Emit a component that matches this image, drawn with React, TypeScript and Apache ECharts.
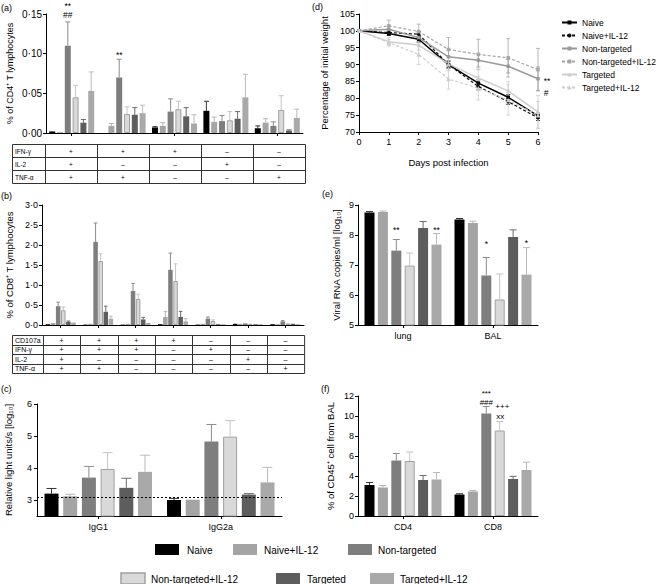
import React, { useEffect, useRef } from 'react';
import * as echarts from 'echarts';

const FONT = '"Liberation Sans", Arial, Helvetica, sans-serif';

const GROUPS = ['Naive', 'Naive+IL-12', 'Non-targeted', 'Non-targeted+IL-12', 'Targeted', 'Targeted+IL-12'];
const BAR_COLORS = ['#000000', '#a4a4a4', '#7e7e7e', '#d9d9d9', '#5d5d5d', '#a9a9a9'];
const ERR_COLORS = ['#333333', '#b4b4b4', '#8c8c8c', '#c4c4c4', '#6c6c6c', '#bababa'];
const NT_IL12_BORDER = '#a0a0a0';

// ---------- (a) CD4+ cytokine profiles ----------
const A_CATS = ['IFN+IL2+TNF+', 'IFN+TNF+', 'IFN+', 'IL2+', 'TNF+'];
const A_VALUES = [
  [0.002, 0.0, 0.007, 0.028, 0.006],
  [0.001, 0.009, 0.009, 0.014, 0.013],
  [0.11, 0.07, 0.027, 0.015, 0.009],
  [0.045, 0.024, 0.03, 0.016, 0.029],
  [0.013, 0.023, 0.021, 0.018, 0.003],
  [0.053, 0.025, 0.012, 0.045, 0.019],
];
const A_ERR_TOP = [
  [0.002, 0.0, 0.008, 0.04, 0.009],
  [0.001, 0.012, 0.013, 0.02, 0.018],
  [0.14, 0.093, 0.043, 0.022, 0.014],
  [0.06, 0.033, 0.04, 0.027, 0.047],
  [0.017, 0.032, 0.032, 0.027, 0.004],
  [0.077, 0.035, 0.023, 0.074, 0.03],
];
const A_TABLE_LABELS = ['IFN-γ', 'IL-2', 'TNF-α'];
const A_TABLE = [
  ['+', '+', '+', '–', '–'],
  ['+', '–', '–', '+', '–'],
  ['+', '+', '–', '–', '+'],
];
const A_NOTES = [
  { s: 2, c: 0, t: '**', dx: 0, dy: -16, f: 8.5 },
  { s: 2, c: 0, t: '##', dx: 0, dy: -7, f: 8.5 },
  { s: 2, c: 1, t: '**', dx: 0, dy: -4, f: 8.5 },
];

// ---------- (b) CD8+ functional profiles ----------
const B_CATS = ['p1', 'p2', 'p3', 'p4', 'p5', 'p6', 'p7'];
const B_VALUES = [
  [0.02, 0.01, 0.01, 0.02, 0.01, 0.03, 0.02],
  [0.05, 0.03, 0.03, 0.2, 0.03, 0.03, 0.02],
  [0.47, 2.08, 0.85, 1.38, 0.16, 0.04, 0.09],
  [0.37, 1.6, 0.65, 1.1, 0.1, 0.03, 0.04],
  [0.08, 0.33, 0.14, 0.2, 0.02, 0.02, 0.03],
  [0.06, 0.16, 0.05, 0.09, 0.02, 0.02, 0.02],
];
const B_ERR_TOP = [
  [0.02, 0.01, 0.01, 0.02, 0.01, 0.03, 0.02],
  [0.05, 0.03, 0.03, 0.34, 0.03, 0.03, 0.02],
  [0.57, 2.55, 1.04, 1.8, 0.2, 0.04, 0.11],
  [0.45, 1.78, 0.77, 1.53, 0.13, 0.03, 0.04],
  [0.1, 0.47, 0.19, 0.34, 0.02, 0.02, 0.03],
  [0.06, 0.22, 0.05, 0.16, 0.02, 0.02, 0.02],
];
const B_TABLE_LABELS = ['CD107a', 'IFN-γ', 'IL-2', 'TNF-α'];
const B_TABLE = [
  ['+', '+', '+', '+', '–', '–', '–'],
  ['+', '+', '+', '–', '+', '–', '–'],
  ['+', '–', '–', '–', '–', '+', '–'],
  ['+', '+', '–', '–', '–', '–', '+'],
];

// ---------- (c) antibody ----------
const C_CATS = ['IgG1', 'IgG2a'];
const C_VALUES = [
  [3.2, 3.0],
  [3.12, 3.01],
  [3.7, 4.83],
  [3.97, 4.98],
  [3.38, 3.17],
  [3.88, 3.55],
];
const C_ERR_TOP = [
  [3.36, 3.05],
  [3.18, 3.01],
  [4.05, 5.36],
  [4.48, 5.48],
  [3.68, 3.2],
  [4.4, 4.02],
];
const C_TICKS = [3, 4, 5, 6];
const C_CUTOFF = 3.1;

// ---------- (d) weight ----------
const D_DAYS = [0, 1, 2, 3, 4, 5, 6];
const D_NAIVE = [100, 99.2, 97.5, 90, 84.5, 80.3, 74.8];
const D_NAIVE_IL12 = [100, 99.5, 99, 90, 83.5, 79, 74.2];
const D_NT = [100, 100.5, 98, 92.3, 91.3, 89.5, 85.8];
const D_NT_IL12 = [100, 101.5, 99.8, 94.5, 93, 92, 88.5];
const D_T = [100, 96.8, 95.8, 90.2, 86, 82.2, 76];
const D_T_IL12 = [100, 96.5, 93, 85.7, 83, 79.5, 75];
const D_NAIVE_ERR = [0, 0.5, 0.8, 1, 1, 0.8, 0.8];
const D_NAIVE_IL12_ERR = [0, 0.8, 0.8, 1, 1, 0.8, 0.8];
const D_NT_ERR = [0, 1, 1.5, 2, 2, 2, 3.5];
const D_NT_IL12_ERR = [0, 1.7, 2.2, 3.5, 4.5, 5.7, 6.3];
const D_T_ERR = [0, 1.2, 1.5, 2, 2.5, 2.7, 4.8];
const D_T_IL12_ERR = [0, 1, 3, 3, 3.5, 4.5, 4];

// ---------- (e) viral RNA ----------
const E_CATS = ['lung', 'BAL'];
const E_VALUES = [
  [8.75, 8.52],
  [8.77, 8.4],
  [7.48, 6.65],
  [6.98, 5.85],
  [8.23, 7.93],
  [7.68, 6.68],
];
const E_ERR_TOP = [
  [8.78, 8.55],
  [8.8, 8.46],
  [7.85, 7.25],
  [7.4, 6.7],
  [8.45, 8.17],
  [8.05, 7.58],
];
const E_NOTES = [
  { s: 2, c: 0, t: '**', dx: 0, dy: -10, f: 8.5 },
  { s: 5, c: 0, t: '**', dx: 0, dy: -4, f: 8.5 },
  { s: 2, c: 1, t: '*', dx: 0, dy: -14, f: 8.5 },
  { s: 5, c: 1, t: '*', dx: 0, dy: -5, f: 8.5 },
];

// ---------- (f) CD45+ cells ----------
const F_CATS = ['CD4', 'CD8'];
const F_VALUES = [
  [3.1, 2.15],
  [2.85, 2.45],
  [5.55, 10.25],
  [5.5, 8.55],
  [3.6, 3.7],
  [3.65, 4.6],
];
const F_ERR_TOP = [
  [3.35, 2.22],
  [3.05, 2.55],
  [6.25, 10.95],
  [6.4, 9.45],
  [4.05, 3.97],
  [4.35, 5.38],
];
const F_NOTES = [
  { s: 2, c: 1, t: '***', dx: 0, dy: -13, f: 8 },
  { s: 2, c: 1, t: '###', dx: 0, dy: -4, f: 8 },
  { s: 2, c: 1, t: '+++', dx: 16, dy: 0, f: 8 },
  { s: 2, c: 1, t: 'xx', dx: 14, dy: 9.5, f: 8 },
];

type Note = { s: number; c: number; t: string; dx: number; dy: number; f: number };

function textStyle(text: string, size: number, align = 'center', vAlign = 'middle', fill = '#000') {
  return {
    text,
    fontSize: size,
    fontFamily: FONT,
    fill,
    align,
    textAlign: align,
    verticalAlign: vAlign,
    textVerticalAlign: vAlign,
  };
}

function barSeries(idx: number, values: number[][], errs: number[][], bw: number, gap: number, cap: number, notes: Note[]) {
  const out: any[] = [];
  const n = values.length;
  const total = n * bw + (n - 1) * gap;
  values.forEach((vals, i) => {
    out.push({
      type: 'bar',
      name: GROUPS[i],
      xAxisIndex: idx,
      yAxisIndex: idx,
      data: vals,
      barWidth: bw,
      barGap: (gap / bw) * 100 + '%',
      clip: true,
      silent: true,
      itemStyle: {
        color: BAR_COLORS[i],
        borderColor: i === 3 ? NT_IL12_BORDER : BAR_COLORS[i],
        borderWidth: i === 3 ? 1 : 0,
      },
    });
  });
  values.forEach((vals, i) => {
    const off = -total / 2 + i * (bw + gap) + bw / 2;
    out.push({
      type: 'custom',
      xAxisIndex: idx,
      yAxisIndex: idx,
      silent: true,
      z: 5,
      data: vals.map((v, c) => [c, v, errs[i][c]]),
      renderItem: (params: any, api: any) => {
        const c = api.value(0);
        const v = api.value(1);
        const e = api.value(2);
        const base = api.coord([c, v]);
        const top = api.coord([c, e]);
        const x = base[0] + off;
        const children: any[] = [];
        if (e > v) {
          children.push({ type: 'line', shape: { x1: x, y1: base[1], x2: x, y2: top[1] }, style: { stroke: ERR_COLORS[i], lineWidth: 1 } });
          children.push({ type: 'line', shape: { x1: x - cap, y1: top[1], x2: x + cap, y2: top[1] }, style: { stroke: ERR_COLORS[i], lineWidth: 1 } });
        }
        notes
          .filter((nt) => nt.s === i && nt.c === c)
          .forEach((nt) => {
            children.push({ type: 'text', x: x + nt.dx, y: top[1] + nt.dy, style: textStyle(nt.t, nt.f) });
          });
        return { type: 'group', children };
      },
    });
  });
  return out;
}

function lineSeries(name: string, vals: number[], errs: number[], color: string, dashed: boolean, symbol: string, size: number, width: number) {
  return [
    {
      type: 'line',
      name,
      xAxisIndex: 3,
      yAxisIndex: 3,
      data: D_DAYS.map((d, i) => [d, vals[i]]),
      symbol,
      symbolSize: size,
      showSymbol: true,
      lineStyle: { color, width, type: dashed ? [3, 2] : 'solid' },
      itemStyle: { color },
      z: 4,
    },
    {
      type: 'custom',
      xAxisIndex: 3,
      yAxisIndex: 3,
      silent: true,
      z: 3,
      data: D_DAYS.map((d, i) => [d, vals[i] - errs[i], vals[i] + errs[i]]),
      renderItem: (params: any, api: any) => {
        const x = api.value(0);
        const lo = api.value(1);
        const hi = api.value(2);
        if (hi <= lo) return { type: 'group', children: [] };
        const p1 = api.coord([x, lo]);
        const p2 = api.coord([x, hi]);
        const st = { stroke: color, lineWidth: 1, opacity: 0.8 };
        return {
          type: 'group',
          children: [
            { type: 'line', shape: { x1: p1[0], y1: p1[1], x2: p2[0], y2: p2[1] }, style: st },
            { type: 'line', shape: { x1: p1[0] - 2, y1: p1[1], x2: p1[0] + 2, y2: p1[1] }, style: st },
            { type: 'line', shape: { x1: p2[0] - 2, y1: p2[1], x2: p2[0] + 2, y2: p2[1] }, style: st },
          ],
        };
      },
    },
  ];
}

function tableGraphics(x0: number, y0: number, labelW: number, colW: number, rowH: number, labels: string[], rows: string[][], size: number) {
  const els: any[] = [];
  const nCols = rows[0].length;
  const w = labelW + nCols * colW;
  const h = rows.length * rowH;
  const st = { stroke: '#333', lineWidth: 1, fill: null };
  els.push({ type: 'rect', shape: { x: x0 + 0.5, y: y0 + 0.5, width: w, height: h }, style: { stroke: '#333', lineWidth: 1, fill: 'none' } });
  for (let r = 1; r < rows.length; r++) {
    const y = Math.round(y0 + r * rowH) + 0.5;
    els.push({ type: 'line', shape: { x1: x0, y1: y, x2: x0 + w, y2: y }, style: st });
  }
  for (let c = 0; c < nCols; c++) {
    const x = Math.round(x0 + labelW + c * colW) + 0.5;
    els.push({ type: 'line', shape: { x1: x, y1: y0, x2: x, y2: y0 + h }, style: st });
  }
  labels.forEach((lab, r) => {
    const cy = y0 + r * rowH + rowH / 2 + 0.5;
    els.push({ type: 'text', x: x0 + 3, y: cy, style: textStyle(lab, size, 'left') });
    rows[r].forEach((v, c) => {
      els.push({ type: 'text', x: x0 + labelW + c * colW + colW / 2, y: cy, style: textStyle(v, size) });
    });
  });
  return els;
}

const axisLineStyle = { show: true, lineStyle: { color: '#000', width: 1 } };

function valueAxis(idx: number, extra: any) {
  return {
    type: 'value',
    gridIndex: idx,
    axisLine: axisLineStyle,
    axisTick: { show: true, length: 3, lineStyle: { color: '#000' } },
    splitLine: { show: false },
    axisLabel: { color: '#000', fontSize: 9, margin: 4, fontFamily: FONT },
    nameLocation: 'middle',
    nameRotate: 90,
    nameMoveOverlap: false,
    nameTextStyle: { color: '#000', fontSize: 9.5, fontFamily: FONT },
    ...extra,
  };
}

function catAxis(idx: number, data: string[], showLabel: boolean) {
  return {
    type: 'category',
    gridIndex: idx,
    data,
    axisLine: axisLineStyle,
    axisTick: { show: true, alignWithLabel: true, length: 3, lineStyle: { color: '#000' } },
    axisLabel: { show: showLabel, color: '#000', fontSize: 9, margin: 6, fontFamily: FONT },
    splitLine: { show: false },
  };
}

const dot = (digits: number) => (v: number) => v.toFixed(digits).replace('.', '·');

function buildOption() {
  const grids = [
    { left: 46, top: 14, width: 257, height: 119 },
    { left: 42, top: 205, width: 262, height: 120 },
    { left: 37, top: 404, width: 245, height: 112 },
    { left: 359, top: 14, width: 179, height: 118 },
    { left: 358, top: 205, width: 180, height: 120 },
    { left: 358, top: 396, width: 180, height: 120 },
  ];

  const xAxis = [
    catAxis(0, A_CATS, false),
    catAxis(1, B_CATS, false),
    catAxis(2, C_CATS, true),
    {
      type: 'value',
      gridIndex: 3,
      min: 0,
      max: 6,
      interval: 1,
      axisLine: axisLineStyle,
      axisTick: { show: true, length: 3, lineStyle: { color: '#000' } },
      splitLine: { show: false },
      axisLabel: { color: '#000', fontSize: 9, margin: 5, fontFamily: FONT },
      name: 'Days post infection',
      nameLocation: 'middle',
      nameGap: 25,
      nameMoveOverlap: false,
      nameTextStyle: { color: '#000', fontSize: 9.5, fontFamily: FONT },
    },
    catAxis(4, E_CATS, true),
    catAxis(5, F_CATS, true),
  ];

  const yAxis = [
    valueAxis(0, {
      min: 0, max: 0.15, interval: 0.05, name: '% of CD4⁺ T lymphocytes', nameGap: 32,
      axisLabel: { color: '#000', fontSize: 10, margin: 4, fontFamily: FONT, formatter: dot(2) },
      nameTextStyle: { color: '#000', fontSize: 9, fontFamily: FONT },
    }),
    valueAxis(1, {
      min: 0, max: 3, interval: 0.5, name: '% of CD8⁺ T lymphocytes', nameGap: 28,
      axisLabel: { color: '#000', fontSize: 9, margin: 4, fontFamily: FONT, formatter: dot(1) },
    }),
    valueAxis(2, {
      min: 2.5, max: 6, name: 'Relative light units/s [log₁₀]', nameGap: 24,
      axisLabel: { color: '#000', fontSize: 9, margin: 5, fontFamily: FONT, customValues: C_TICKS },
      axisTick: { show: true, length: 3, lineStyle: { color: '#000' }, customValues: C_TICKS },
    }),
    valueAxis(3, { min: 70, max: 105, interval: 5, name: 'Percentage of initial weight', nameGap: 30 }),
    valueAxis(4, { min: 5, max: 9, interval: 1, name: 'Viral RNA copies/ml [log₁₀]', nameGap: 17 }),
    valueAxis(5, { min: 0, max: 12, interval: 2, name: '% of CD45⁺ cell from BAL', nameGap: 23 }),
  ];

  const series: any[] = [
    ...lineSeries(GROUPS[0], D_NAIVE, D_NAIVE_ERR, '#000000', false, 'rect', 3.5, 1.5),
    ...lineSeries(GROUPS[1], D_NAIVE_IL12, D_NAIVE_IL12_ERR, '#111111', true, 'circle', 3.5, 1.2),
    ...lineSeries(GROUPS[2], D_NT, D_NT_ERR, '#9a9a9a', false, 'rect', 3.5, 1.5),
    ...lineSeries(GROUPS[3], D_NT_IL12, D_NT_IL12_ERR, '#a6a6a6', true, 'rect', 3.5, 1.2),
    ...lineSeries(GROUPS[4], D_T, D_T_ERR, '#cdcdcd', false, 'triangle', 4.5, 1.5),
    ...lineSeries(GROUPS[5], D_T_IL12, D_T_IL12_ERR, '#cdcdcd', true, 'triangle', 4.5, 1.2),
    {
      type: 'custom',
      xAxisIndex: 3,
      yAxisIndex: 3,
      silent: true,
      z: 6,
      data: [[6, D_NT[6]]],
      renderItem: (params: any, api: any) => {
        const p = api.coord([api.value(0), api.value(1)]);
        return {
          type: 'group',
          children: [
            { type: 'text', x: p[0] + 9, y: p[1] + 2, style: textStyle('**', 8.5) },
            { type: 'text', x: p[0] + 8, y: p[1] + 14, style: textStyle('#', 8.5) },
          ],
        };
      },
    },
    ...barSeries(0, A_VALUES, A_ERR_TOP, 6, 1.8, 2.5, A_NOTES),
    ...barSeries(1, B_VALUES, B_ERR_TOP, 4.5, 0.6, 1.8, []),
    ...barSeries(2, C_VALUES, C_ERR_TOP, 14, 4.7, 5, []),
    ...barSeries(4, E_VALUES, E_ERR_TOP, 10, 3.4, 3.5, E_NOTES),
    ...barSeries(5, F_VALUES, F_ERR_TOP, 10, 3.4, 3.5, F_NOTES),
  ];

  // dotted cut-off line in (c)
  const cFirst = series.find((s) => s.type === 'bar' && s.xAxisIndex === 2);
  cFirst.markLine = {
    silent: true,
    symbol: ['none', 'none'],
    label: { show: false },
    lineStyle: { color: '#000', type: [2, 2], width: 1 },
    data: [{ yAxis: C_CUTOFF }],
  };

  // bottom legend (drawn as graphic swatches + text)
  const legendPos = [
    { sx: 155, tx: 187, y: 544 },
    { sx: 233, tx: 264, y: 544 },
    { sx: 348, tx: 378, y: 544 },
    { sx: 121, tx: 151, y: 573 },
    { sx: 276, tx: 307, y: 573 },
    { sx: 370, tx: 400, y: 573 },
  ];
  const legendEls: any[] = [];
  GROUPS.forEach((g, i) => {
    const p = legendPos[i];
    legendEls.push({
      type: 'rect',
      shape: { x: p.sx, y: p.y, width: 24, height: 11 },
      style: { fill: BAR_COLORS[i], stroke: i === 3 ? NT_IL12_BORDER : BAR_COLORS[i], lineWidth: i === 3 ? 1.5 : 0 },
    });
    legendEls.push({ type: 'text', x: p.tx, y: p.y + 6, style: textStyle(g, 10, 'left') });
  });

  const panelLabels = [
    { t: '(a)', x: 1, y: 8 },
    { t: '(b)', x: 1, y: 196 },
    { t: '(c)', x: 1, y: 389 },
    { t: '(d)', x: 312, y: 7 },
    { t: '(e)', x: 322, y: 194 },
    { t: '(f)', x: 321, y: 389 },
  ].map((p) => ({ type: 'text', x: p.x, y: p.y, style: textStyle(p.t, 9, 'left') }));

  const graphic = [
    ...panelLabels,
    ...tableGraphics(12, 144, 33, 52, 13, A_TABLE_LABELS, A_TABLE, 6.5),
    ...tableGraphics(12, 335, 31, 37.3, 9.5, B_TABLE_LABELS, B_TABLE, 7),
    ...legendEls,
  ];

  return {
    animation: false,
    backgroundColor: '#ffffff',
    textStyle: { fontFamily: FONT },
    grid: grids,
    xAxis,
    yAxis,
    legend: [
      {
        data: GROUPS,
        orient: 'vertical',
        left: 556,
        top: 13,
        itemWidth: 15,
        itemHeight: 5,
        itemGap: 4,
        selectedMode: false,
        textStyle: { fontSize: 8.5, color: '#000', fontFamily: FONT },
      },
    ],
    series,
    graphic,
  };
}

export default function App() {
  const ref = useRef<HTMLDivElement>(null);
  useEffect(() => {
    if (!ref.current) return;
    const chart = echarts.init(ref.current, null, { renderer: 'svg' });
    chart.setOption(buildOption() as any);
    return () => chart.dispose();
  }, []);
  return <div ref={ref} style={{ position: 'fixed', left: 0, top: 0, width: 659, height: 584, background: '#fff' }} />;
}
